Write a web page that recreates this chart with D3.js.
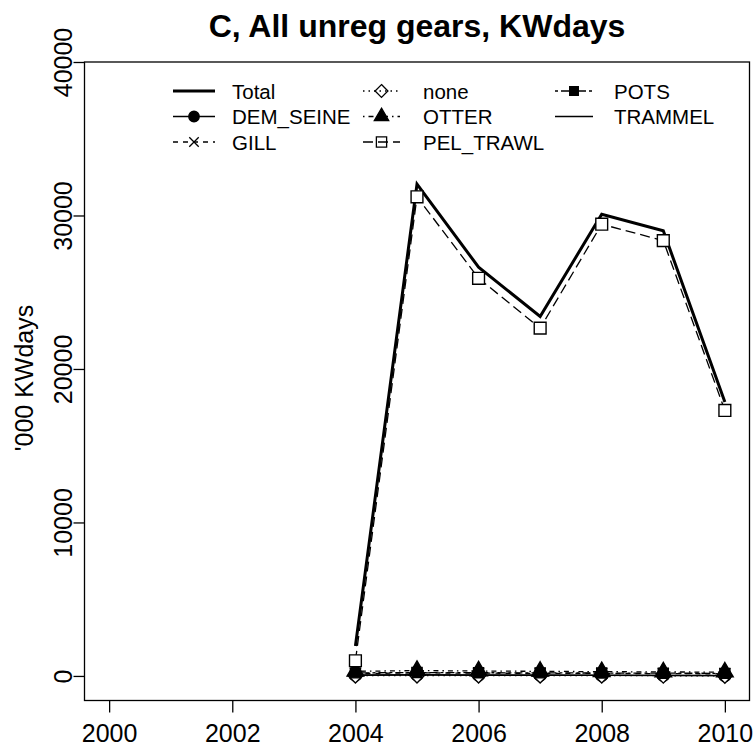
<!DOCTYPE html>
<html>
<head>
<meta charset="utf-8">
<script src="https://cdn.jsdelivr.net/npm/d3@7"></script>
<style>
    body { margin: 0; background: #fff; }
    svg { font-family: 'Liberation Sans', Arial, sans-serif; }
    .axis text { font-size: 25px; fill: #000; }
    .axis line, .axis path { stroke: #000; stroke-width: 1.3px; }
</style>
</head>
<body>
<div id="vis"></div>
<script>
// data ('000 KWdays)
var years = [2004, 2005, 2006, 2007, 2008, 2009, 2010];
var xTicks = [2000, 2002, 2004, 2006, 2008, 2010];
var yTicks = [0, 10000, 20000, 30000, 40000];

var total     = [1950, 32050, 26630, 23420, 30080, 29010, 17850];
var demSeine  = [60, 80, 70, 60, 50, 40, 30];
var gill      = [150, 200, 180, 170, 160, 150, 140];
var none      = [20, 30, 25, 20, 20, 15, 10];
var otter     = [300, 350, 320, 300, 280, 260, 250];
var pelTrawl  = [990, 31220, 25910, 22660, 29430, 28360, 17300];
var pots      = [200, 220, 210, 200, 190, 180, 170];
var trammel   = [40, 50, 45, 40, 35, 30, 25];

var seriesNames = ['Total', 'DEM_SEINE', 'GILL', 'none', 'OTTER', 'PEL_TRAWL', 'POTS', 'TRAMMEL'];
var seriesValues = [total, demSeine, gill, none, otter, pelTrawl, pots, trammel];

var width = 754;
var height = 745;

var svg = d3.select('#vis')
            .append('svg')
            .attr('width', width)
            .attr('height', height);

var xScale = d3.scaleLinear()
                .domain([1999.6, 2010.4])
                .range([84.5, 749.5]);

var yScale = d3.scaleLinear()
                .domain([-1600, 40000])
                .range([700.5, 62]);

var symTimes = d3.symbolTimes || d3.symbolCross;
var symDiamond = d3.symbolDiamond2 || d3.symbolDiamond;

// line style + marker for each series, same order as seriesNames
var styles = [
    { dash: null,          width: 3,   sym: null },
    { dash: null,          width: 1.3, sym: d3.symbolCircle,   size: 115, fill: '#000' },
    { dash: '5,5',         width: 1.3, sym: symTimes,          size: 80,  fill: 'none' },
    { dash: '1.5,4',       width: 1.3, sym: symDiamond,        size: 140, fill: '#fff' },
    { dash: '1.5,4,5,4',   width: 1.3, sym: d3.symbolTriangle, size: 120, fill: '#000' },
    { dash: '10,5',        width: 1.3, sym: d3.symbolSquare,   size: 140, fill: '#fff' },
    { dash: '3,3,8,3',     width: 1.3, sym: d3.symbolSquare,   size: 100, fill: '#000' },
    { dash: null,          width: 1.3, sym: null }
];

// plot box
svg.append('rect')
    .attr('x', 84.5)
    .attr('y', 62)
    .attr('width', 665)
    .attr('height', 638.5)
    .attr('fill', 'none')
    .attr('stroke', '#000')
    .attr('stroke-width', 1.3);

var xAxis = d3.axisBottom(xScale)
                .tickValues(xTicks)
                .tickFormat(d3.format('d'))
                .tickSize(12)
                .tickSizeOuter(0);

var gx = svg.append('g')
    .attr('class', 'axis')
    .attr('transform', 'translate(0, 700.5)')
    .call(xAxis);
gx.select('.domain').remove();
gx.selectAll('text').attr('y', 41).attr('dy', 0);

var yAxis = d3.axisLeft(yScale)
                .tickValues(yTicks)
                .tickFormat(d3.format('d'))
                .tickSize(11)
                .tickSizeOuter(0);

var gy = svg.append('g')
    .attr('class', 'axis')
    .attr('transform', 'translate(84.5, 0)')
    .call(yAxis);
gy.select('.domain').remove();
gy.selectAll('text')
    .attr('x', 0)
    .attr('dy', 0)
    .attr('text-anchor', 'middle')
    .attr('transform', 'translate(-13, 0) rotate(-90)');

svg.append('text')
    .attr('transform', 'translate(33, 378) rotate(-90)')
    .attr('text-anchor', 'middle')
    .style('font-size', '25px')
    .text("'000 KWdays");

svg.append('text')
    .attr('x', 417)
    .attr('y', 37)
    .attr('text-anchor', 'middle')
    .style('font-size', '32px')
    .style('font-weight', 'bold')
    .text('C, All unreg gears, KWdays');

var line = d3.line()
            .x(function(d, i) { return xScale(years[i]); })
            .y(function(d) { return yScale(d); });

var plot = svg.append('g');

seriesValues.forEach(function(vals, k) {
    var st = styles[k];
    plot.append('path')
        .attr('d', line(vals))
        .attr('fill', 'none')
        .attr('stroke', '#000')
        .attr('stroke-width', st.width)
        .attr('stroke-dasharray', st.dash);
});

seriesValues.forEach(function(vals, k) {
    var st = styles[k];
    if (!st.sym) return;
    plot.selectAll(null)
        .data(vals)
        .enter()
        .append('path')
        .attr('d', d3.symbol().type(st.sym).size(st.size))
        .attr('transform', function(d, i) {
            return 'translate(' + xScale(years[i]) + ',' + yScale(d) + ')';
        })
        .attr('fill', st.fill)
        .attr('stroke', '#000')
        .attr('stroke-width', 1.4);
});

// legend, three columns
var legendCols = [[173, 215, 232], [363, 400, 423], [555, 593, 614]];
var legendRows = [91, 116.5, 142];

seriesNames.forEach(function(name, k) {
    var st = styles[k];
    var col = legendCols[Math.floor(k / 3)];
    var cy = legendRows[k % 3];
    var lg = svg.append('g');
    lg.append('line')
        .attr('x1', col[0])
        .attr('x2', col[1])
        .attr('y1', cy)
        .attr('y2', cy)
        .attr('stroke', '#000')
        .attr('stroke-width', st.width)
        .attr('stroke-dasharray', st.dash);
    if (st.sym) {
        lg.append('path')
            .attr('d', d3.symbol().type(st.sym).size(st.size * 0.75))
            .attr('transform', 'translate(' + ((col[0] + col[1]) / 2) + ',' + cy + ')')
            .attr('fill', st.fill == '#fff' ? 'none' : st.fill)
            .attr('stroke', '#000')
            .attr('stroke-width', 1.3);
    }
    lg.append('text')
        .attr('x', col[2])
        .attr('y', cy + 7.5)
        .style('font-size', '20.5px')
        .text(name);
});
</script>
</body>
</html>
